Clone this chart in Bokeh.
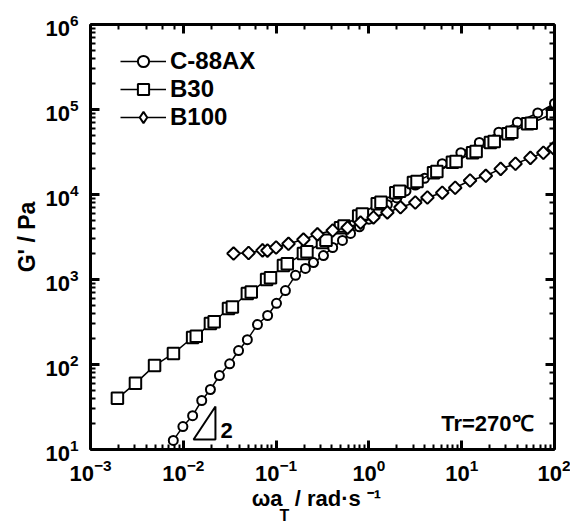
from bokeh.plotting import figure
from bokeh.models import LogAxis, Label, Legend, LegendItem, Range1d, Title
from bokeh.embed import file_html
from bokeh.resources import INLINE
from math import pi

# ---- data ----
c88_x = [0.0078, 0.0099, 0.0126, 0.0158, 0.0196, 0.0245, 0.0316, 0.0394, 0.049, 0.063,
         0.081, 0.101, 0.126, 0.162, 0.207, 0.253, 0.324, 0.407, 0.519, 0.634,
         0.79, 1.0, 1.26, 1.58, 2.0, 2.51, 3.16, 3.98, 5.0, 6.17,
         9.8, 15.5, 25.1, 39.8, 66.0, 100.0]
c88_y = [12.8, 18.6, 25, 37.7, 50.8, 74, 102, 146, 196, 295,
         377, 525, 741, 1120, 1350, 1580, 1910, 2380, 2880, 3480,
         4170, 5130, 6310, 7590, 9120, 11000, 12900, 15500, 18600, 23000,
         31000, 41000, 54000, 71000, 91000, 118000]

b30_x = [0.00195, 0.00305, 0.0049, 0.00783, 0.0126, 0.0138, 0.0196, 0.0215, 0.0307, 0.0338,
         0.049, 0.054, 0.079, 0.087, 0.120, 0.132, 0.197, 0.215, 0.316, 0.345,
         0.494, 0.54, 0.776, 0.85, 1.23, 1.35, 1.95, 2.14, 3.02, 3.3,
         4.97, 5.4, 7.94, 8.7, 13.1, 14.3, 20.4, 22.4, 31.6, 34.7,
         51.3, 56.2, 95.5]
b30_y = [40, 60, 97, 135, 208, 215, 303, 318, 456, 475,
         684, 715, 1000, 1050, 1460, 1530, 2020, 2120, 2720, 2900,
         4070, 4250, 5600, 5900, 7800, 8100, 10500, 10900, 13800, 14200,
         18000, 18600, 24000, 24500, 31000, 32000, 41000, 42000, 52000, 54000,
         68000, 69000, 89000]

b100_x = [0.0348, 0.0505, 0.0714, 0.0807, 0.1, 0.136, 0.197, 0.279, 0.407, 0.589,
          0.813, 1.12, 1.58, 2.19, 3.16, 4.27, 6.17, 8.51, 12.3, 18.2,
          26.3, 38.0, 55.0, 75.9, 97.7]
b100_y = [2020, 2050, 2200, 2190, 2380, 2630, 2950, 3400, 3770, 4070,
          4670, 5370, 6150, 7070, 8050, 9220, 10500, 12000, 14600, 16600,
          20000, 23000, 27000, 31000, 35000]

series_names = ["C-88AX", "B30", "B100"]

# slope-2 triangle annotation
tri_x = [0.0129, 0.0222, 0.0222]
tri_y = [13.1, 13.1, 32.0]

FONT = "Liberation Sans"
NB = "\u00a0"

p = figure(width=570, height=526, x_axis_type="log", y_axis_type="log",
           x_range=Range1d(1e-3, 1e2), y_range=Range1d(1e1, 1e6),
           output_backend="svg", toolbar_location=None,
           min_border_left=90, min_border_right=16, min_border_top=24, min_border_bottom=77)
p.xgrid.visible = False
p.ygrid.visible = False
p.outline_line_color = None
p.background_fill_color = "white"
p.border_fill_color = "white"


def style_axis(ax, labels=True):
    ax.axis_line_width = 3
    ax.axis_line_color = "black"
    ax.major_tick_line_width = 3
    ax.minor_tick_line_width = 2
    ax.major_tick_in = 9
    ax.major_tick_out = 0
    ax.minor_tick_in = 5
    ax.minor_tick_out = 0
    ax.major_label_text_font = FONT
    ax.major_label_text_font_style = "bold"
    ax.major_label_text_color = "black"
    ax.axis_label_text_font = FONT
    ax.axis_label_text_font_style = "bold"
    ax.axis_label_text_color = "black"
    if labels:
        ax.major_label_text_font_size = "22px"
        ax.major_label_standoff = 9
    else:
        ax.major_label_text_font_size = "1px"
        ax.major_label_text_alpha = 0
        ax.major_label_standoff = 0


style_axis(p.xaxis[0])
style_axis(p.yaxis[0])
p.yaxis[0].axis_label = "G' / Pa"
p.yaxis[0].axis_label_text_font_size = "23px"
p.yaxis[0].axis_label_standoff = 2
p.yaxis[0].major_label_standoff = 12

p.xaxis[0].axis_label = "\u03c9a" + NB + NB + "/ rad\u00b7s" + NB + "\u207b\u00b9" + NB + NB
p.xaxis[0].axis_label_text_font_size = "22px"
p.xaxis[0].axis_label_standoff = 2

top = LogAxis()
right = LogAxis()
style_axis(top, labels=False)
style_axis(right, labels=False)
p.add_layout(top, "above")
p.add_layout(right, "right")

# subscript T of the x-axis label
p.add_layout(Title(text="T", align="left", offset=189, standoff=-17,
                   text_font=FONT, text_font_style="bold", text_font_size="16px",
                   text_color="black"), "below")

# series
l1 = p.line(c88_x, c88_y, line_color="black", line_width=1.5)
s1 = p.scatter(c88_x, c88_y, marker="circle", size=9, fill_color="white",
               line_color="black", line_width=2)
l2 = p.line(b30_x, b30_y, line_color="black", line_width=1.5)
s2 = p.scatter(b30_x, b30_y, marker="square", size=11.5, fill_color="white",
               line_color="black", line_width=2)
l3 = p.line(b100_x, b100_y, line_color="black", line_width=1.5)
# diamond used for the legend (legend ignores marker angle); hidden under the rotated squares
s3_leg = p.scatter(b100_x, b100_y, marker="diamond", size=12, fill_color="white",
                   line_color="black", line_width=2)
s3 = p.scatter(b100_x, b100_y, marker="square", angle=pi / 4, size=9,
               fill_color="white", line_color="black", line_width=2)

# slope triangle
p.patch(tri_x, tri_y, fill_color=None, line_color="black", line_width=2)

legend = Legend(items=[LegendItem(label=series_names[0], renderers=[l1, s1]),
                       LegendItem(label=series_names[1], renderers=[l2, s2]),
                       LegendItem(label=series_names[2], renderers=[l3, s3_leg])],
                location=(30, 318), glyph_width=46, glyph_height=28, label_height=28,
                spacing=0, padding=0, margin=0, label_standoff=4,
                border_line_color=None, background_fill_alpha=0,
                label_text_font=FONT, label_text_font_style="bold",
                label_text_font_size="24px", label_text_color="black")
p.add_layout(legend)


def lab(text, x, y, size, align="left", baseline="alphabetic"):
    p.add_layout(Label(text=text, x=x, y=y, x_units="screen", y_units="screen",
                       text_font=FONT, text_font_style="bold", text_font_size=size,
                       text_align=align, text_baseline=baseline, text_color="black"))


lab("2", 130, 19, "22px")
lab("Tr=270\u2103", 443, 26, "22px", align="right")

open("out.html", "w").write(file_html(p, INLINE))
